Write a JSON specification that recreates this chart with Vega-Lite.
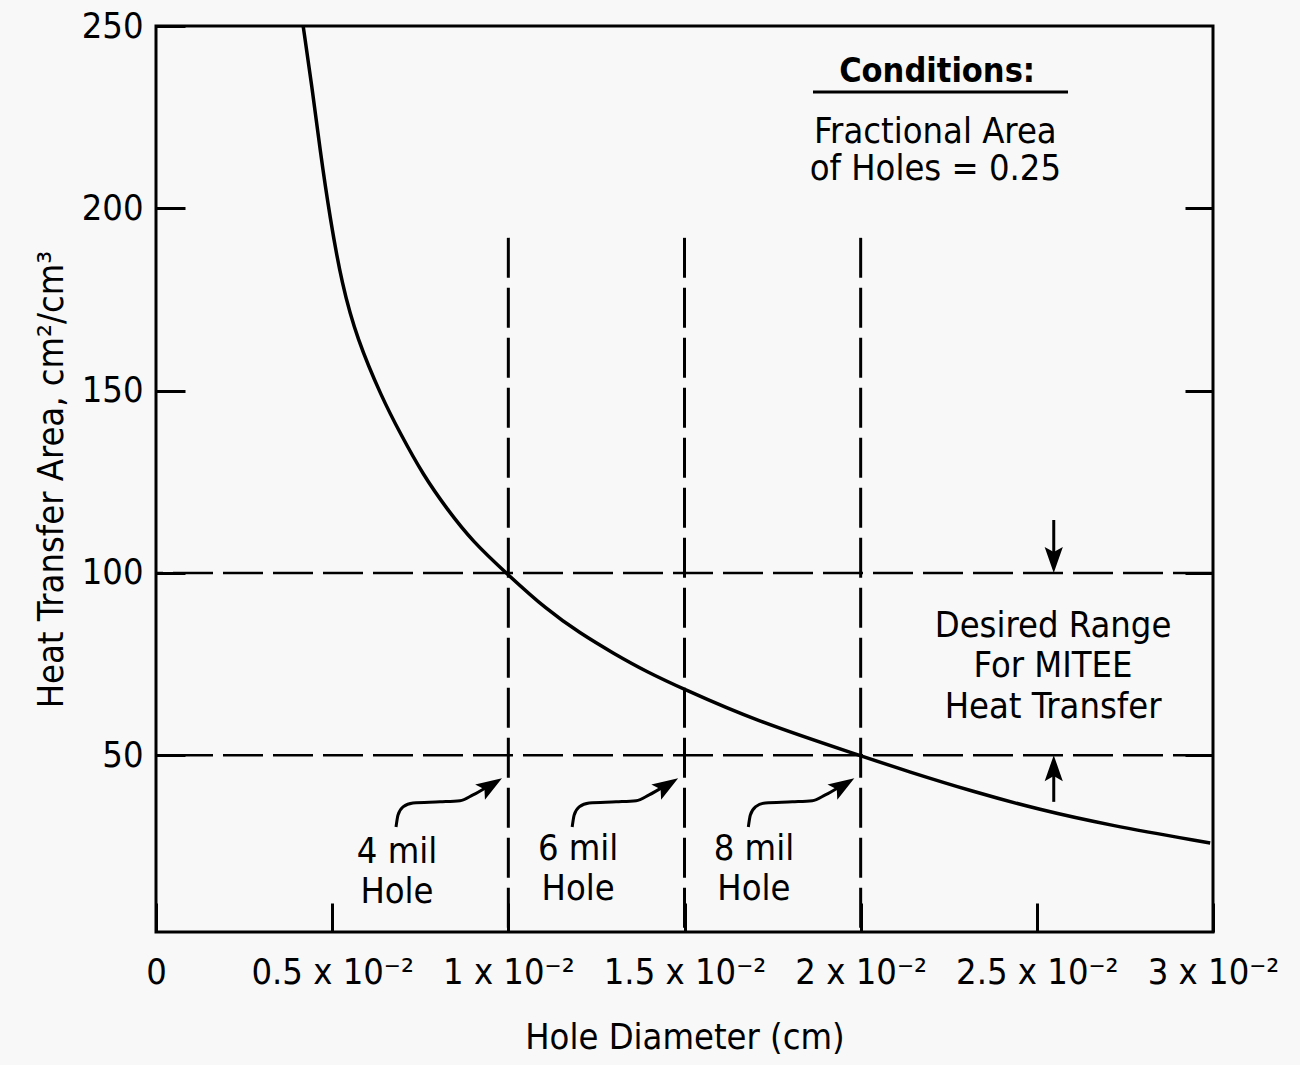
{
  "$schema": "https://vega.github.io/schema/vega-lite/v6.json",
  "width": 1057,
  "height": 906,
  "autosize": {"type": "none"},
  "padding": {"left": 156, "top": 26, "right": 87, "bottom": 133},
  "background": "#f8f8f8",
  "config": {
    "view": {"stroke": "#000", "strokeWidth": 3},
    "font": "'DejaVu Sans Condensed', sans-serif",
    "axis": {
      "domain": false, "grid": false,
      "tickColor": "#000", "tickWidth": 3,
      "labelColor": "#000", "titleColor": "#000",
      "labelFontSize": 36, "titleFontSize": 36, "titleFontWeight": "normal",
      "labelFont": "'DejaVu Sans Condensed', sans-serif",
      "titleFont": "'DejaVu Sans Condensed', sans-serif"
    }
  },
  "datasets": {
    "curve": [
      {"x": 0.004172, "y": 250.3}, {"x": 0.004428, "y": 233.3}, {"x": 0.004655, "y": 216.0},
      {"x": 0.004939, "y": 197.3}, {"x": 0.005279, "y": 179.0}, {"x": 0.005705, "y": 164.2},
      {"x": 0.006414, "y": 148.0}, {"x": 0.006925, "y": 138.4}, {"x": 0.007578, "y": 126.9},
      {"x": 0.008259, "y": 117.5}, {"x": 0.008997, "y": 108.5}, {"x": 0.009934, "y": 100.0},
      {"x": 0.0111, "y": 89.8}, {"x": 0.01203, "y": 83.5}, {"x": 0.01297, "y": 78.0},
      {"x": 0.01394, "y": 72.8}, {"x": 0.01496, "y": 68.2}, {"x": 0.01694, "y": 59.7},
      {"x": 0.02, "y": 49.8}, {"x": 0.02132, "y": 45.6},
      {"x": 0.02319, "y": 40.0}, {"x": 0.02509, "y": 35.0}, {"x": 0.02699, "y": 30.9},
      {"x": 0.02992, "y": 25.9}
    ],
    "hlines": [{"y": 100}, {"y": 50}],
    "vlines": [{"x": 0.01, "y": 191.9, "y2": 1.5}, {"x": 0.015, "y": 191.9, "y2": 1.5}, {"x": 0.02, "y": 191.9, "y2": 1.5}],
    "carrows": [
      {"id": 1, "i": 1, "x": 0.006812, "y": 30.3}, {"id": 1, "i": 2, "x": 0.006869, "y": 33.6},
      {"id": 1, "i": 3, "x": 0.007011, "y": 35.8}, {"id": 1, "i": 4, "x": 0.007294, "y": 36.9},
      {"id": 1, "i": 5, "x": 0.008061, "y": 37.2}, {"id": 1, "i": 6, "x": 0.008628, "y": 37.5},
      {"id": 1, "i": 7, "x": 0.008997, "y": 39.1}, {"id": 1, "i": 8, "x": 0.009395, "y": 41.3},
      {"id": 2, "i": 1, "x": 0.011812, "y": 30.3}, {"id": 2, "i": 2, "x": 0.011869, "y": 33.6},
      {"id": 2, "i": 3, "x": 0.012011, "y": 35.8}, {"id": 2, "i": 4, "x": 0.012294, "y": 36.9},
      {"id": 2, "i": 5, "x": 0.013061, "y": 37.2}, {"id": 2, "i": 6, "x": 0.013628, "y": 37.5},
      {"id": 2, "i": 7, "x": 0.013997, "y": 39.1}, {"id": 2, "i": 8, "x": 0.014395, "y": 41.3},
      {"id": 3, "i": 1, "x": 0.016812, "y": 30.3}, {"id": 3, "i": 2, "x": 0.016869, "y": 33.6},
      {"id": 3, "i": 3, "x": 0.017011, "y": 35.8}, {"id": 3, "i": 4, "x": 0.017294, "y": 36.9},
      {"id": 3, "i": 5, "x": 0.018061, "y": 37.2}, {"id": 3, "i": 6, "x": 0.018628, "y": 37.5},
      {"id": 3, "i": 7, "x": 0.018997, "y": 39.1}, {"id": 3, "i": 8, "x": 0.019395, "y": 41.3}
    ],
    "ctips": [{"x": 0.00982, "y": 43.7}, {"x": 0.01482, "y": 43.7}, {"x": 0.01982, "y": 43.7}],
    "shafts": [{"x": 0.02548, "y": 114.5, "y2": 102}, {"x": 0.02548, "y": 37.2, "y2": 48}],
    "downtip": [{"x": 0.02548, "y": 100}],
    "uptip": [{"x": 0.02548, "y": 50}],
    "texts": [
      {"x": 0.02212, "y": 217.9, "t": "Fractional Area"},
      {"x": 0.02212, "y": 207.8, "t": "of Holes = 0.25"},
      {"x": 0.02546, "y": 82.4, "t": "Desired Range"},
      {"x": 0.02546, "y": 71.4, "t": "For MITEE"},
      {"x": 0.02546, "y": 60.2, "t": "Heat Transfer"},
      {"x": 0.00684, "y": 20.4, "t": "4 mil"},
      {"x": 0.00684, "y": 9.5, "t": "Hole"},
      {"x": 0.01198, "y": 21.3, "t": "6 mil"},
      {"x": 0.01198, "y": 10.3, "t": "Hole"},
      {"x": 0.01697, "y": 21.3, "t": "8 mil"},
      {"x": 0.01697, "y": 10.3, "t": "Hole"}
    ],
    "heading": [{"x": 0.02217, "y": 234.6, "t": "Conditions:"}],
    "underline": [{"x": 0.018647, "x2": 0.025885, "y": 231.9}]
  },
  "layer": [
    {
      "data": {"name": "curve"},
      "mark": {"type": "line", "color": "#000", "strokeWidth": 3.5, "interpolate": "basis", "clip": true},
      "encoding": {
        "x": {
          "field": "x", "type": "quantitative",
          "scale": {"domain": [0, 0.03], "nice": false, "zero": false},
          "axis": {
            "title": "Hole Diameter (cm)",
            "values": [0, 0.005, 0.01, 0.015, 0.02, 0.025, 0.03],
            "tickSize": -29,
            "labelPadding": 52,
            "titlePadding": 30,
            "labelFlush": false,
            "labelOverlap": false,
            "labelExpr": "datum.value == 0 ? '0' : format(datum.value * 100, '.2~f') + ' x 10⁻²'"
          }
        },
        "y": {
          "field": "y", "type": "quantitative",
          "scale": {"domain": [1.5, 250], "nice": false, "zero": false},
          "axis": {
            "title": "Heat Transfer Area, cm²/cm³",
            "values": [50, 100, 150, 200, 250],
            "tickSize": -29,
            "labelPadding": 42,
            "titleX": -94,
            "titleY": 453,
            "titleAngle": -90,
            "titleAlign": "center",
            "titleBaseline": "alphabetic",
            "labelFlush": false,
            "labelOverlap": false
          }
        }
      }
    },
    {
      "data": {"name": "hlines"},
      "mark": {"type": "rule", "color": "#000", "strokeWidth": 2.5, "strokeDash": [40, 10]},
      "encoding": {
        "y": {
          "field": "y", "type": "quantitative",
          "axis": {"orient": "right", "values": [50, 100, 150, 200], "labels": false, "tickSize": -28, "title": null, "domain": false}
        }
      }
    },
    {
      "data": {"name": "vlines"},
      "mark": {"type": "rule", "color": "#000", "strokeWidth": 3, "strokeDash": [40, 10]},
      "encoding": {
        "x": {"field": "x", "type": "quantitative"},
        "y": {"field": "y", "type": "quantitative", "axis": null},
        "y2": {"field": "y2"}
      }
    },
    {
      "data": {"name": "carrows"},
      "mark": {"type": "line", "color": "#000", "strokeWidth": 3, "interpolate": "monotone"},
      "encoding": {
        "x": {"field": "x", "type": "quantitative"},
        "y": {"field": "y", "type": "quantitative", "axis": null},
        "detail": {"field": "id", "type": "nominal"},
        "order": {"field": "i", "type": "quantitative"}
      }
    },
    {
      "data": {"name": "ctips"},
      "mark": {"type": "point", "shape": "M0,0L-0.7,2L0,1.6L0.7,2Z", "size": 676, "filled": true, "color": "#000", "opacity": 1, "angle": 57.5, "strokeWidth": 0},
      "encoding": {
        "x": {"field": "x", "type": "quantitative"},
        "y": {"field": "y", "type": "quantitative", "axis": null}
      }
    },
    {
      "data": {"name": "shafts"},
      "mark": {"type": "rule", "color": "#000", "strokeWidth": 3},
      "encoding": {
        "x": {"field": "x", "type": "quantitative"},
        "y": {"field": "y", "type": "quantitative", "axis": null},
        "y2": {"field": "y2"}
      }
    },
    {
      "data": {"name": "downtip"},
      "mark": {"type": "point", "shape": "M0,0L-0.7,-2L0,-1.6L0.7,-2Z", "size": 676, "filled": true, "color": "#000", "opacity": 1, "strokeWidth": 0},
      "encoding": {
        "x": {"field": "x", "type": "quantitative"},
        "y": {"field": "y", "type": "quantitative", "axis": null}
      }
    },
    {
      "data": {"name": "uptip"},
      "mark": {"type": "point", "shape": "M0,0L-0.7,2L0,1.6L0.7,2Z", "size": 676, "filled": true, "color": "#000", "opacity": 1, "strokeWidth": 0},
      "encoding": {
        "x": {"field": "x", "type": "quantitative"},
        "y": {"field": "y", "type": "quantitative", "axis": null}
      }
    },
    {
      "data": {"name": "texts"},
      "mark": {"type": "text", "fontSize": 36, "baseline": "alphabetic", "align": "center", "color": "#000", "font": "'DejaVu Sans Condensed', sans-serif"},
      "encoding": {
        "x": {"field": "x", "type": "quantitative"},
        "y": {"field": "y", "type": "quantitative", "axis": null},
        "text": {"field": "t"}
      }
    },
    {
      "data": {"name": "heading"},
      "mark": {"type": "text", "fontSize": 34, "fontWeight": "bold", "baseline": "alphabetic", "align": "center", "color": "#000", "font": "'DejaVu Sans Condensed', sans-serif"},
      "encoding": {
        "x": {"field": "x", "type": "quantitative"},
        "y": {"field": "y", "type": "quantitative", "axis": null},
        "text": {"field": "t"}
      }
    },
    {
      "data": {"name": "underline"},
      "mark": {"type": "rule", "color": "#000", "strokeWidth": 3},
      "encoding": {
        "x": {"field": "x", "type": "quantitative"},
        "x2": {"field": "x2"},
        "y": {"field": "y", "type": "quantitative", "axis": null}
      }
    }
  ],
  "resolve": {"axis": {"y": "independent"}}
}
